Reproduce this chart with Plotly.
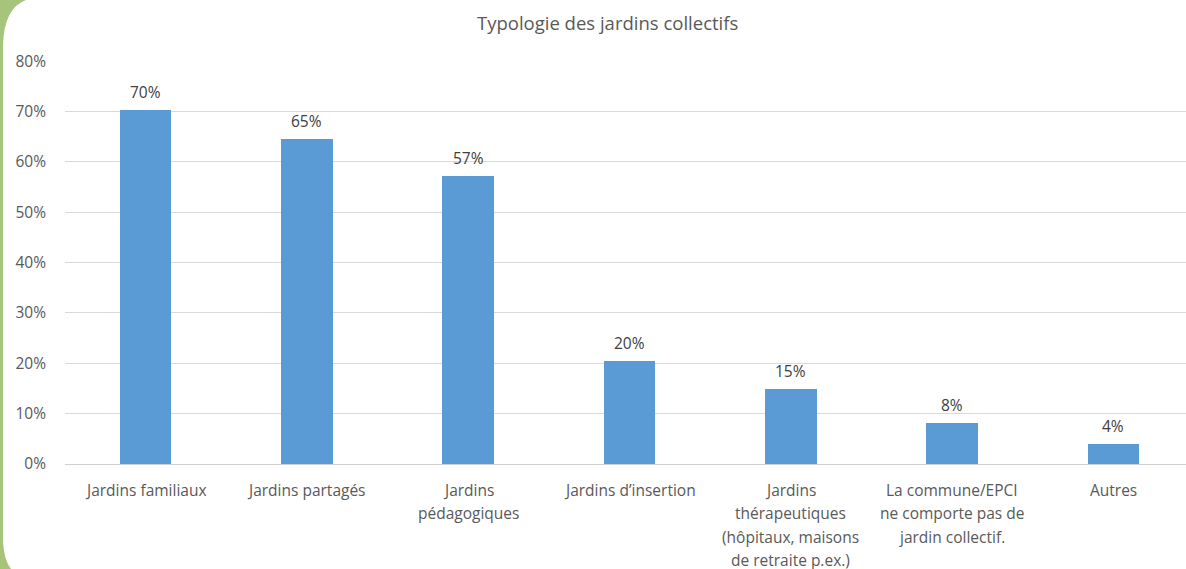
import plotly.graph_objects as go

# ---- data ----
categories = [
    "Jardins familiaux",
    "Jardins partagés",
    "Jardins<br>pédagogiques",
    "Jardins d’insertion",
    "Jardins<br>thérapeutiques<br>(hôpitaux, maisons<br>de retraite p.ex.)",
    "La commune/EPCI<br>ne comporte pas de<br>jardin collectif.",
    "Autres",
]
values = [0.704, 0.646, 0.573, 0.204, 0.148, 0.082, 0.040]
y_ticks = [0, 0.1, 0.2, 0.3, 0.4, 0.5, 0.6, 0.7, 0.8]
title_text = "Typologie des jardins collectifs"

# ---- layout geometry ----
W, H = 1186, 569
L, R, T, B = 65, 0, 61, 105
PW, PH = W - L - R, H - T - B

def px(x):
    return (x - L) / PW

def py(y):
    return (H - B - y) / PH

FONT = "Open Sans, sans-serif"
TXT = "#595959"
FS = 15.5

fig = go.Figure()
fig.add_trace(go.Bar(
    x=list(range(len(categories))),
    y=values,
    marker=dict(color="#5b9bd5", line=dict(width=0)),
    width=0.32,
    hoverinfo="skip",
))

annotations = []
# value labels
for i, v in enumerate(values):
    annotations.append(dict(
        x=i, y=v, xref="x", yref="y", text=f"{round(v*100)}%",
        showarrow=False, yanchor="bottom", yshift=5,
        font=dict(family=FONT, size=FS, color="#404040"),
    ))
# category labels, one annotation per line for Excel-like line spacing
for i, c in enumerate(categories):
    for j, line in enumerate(c.split("<br>")):
        annotations.append(dict(
            x=i, y=0, xref="x", yref="y", text=line,
            showarrow=False, yanchor="middle", yshift=-26 - 23.3 * j,
            font=dict(family=FONT, size=FS, color=TXT),
        ))
# title
annotations.append(dict(
    x=px(607), y=py(22), xref="paper", yref="paper", text=title_text,
    showarrow=False, xanchor="center", yanchor="middle",
    font=dict(family=FONT, size=18.5, color=TXT),
))

# decorative green border on the left
path = (f"M {px(0)},{py(0)} L {px(26)},{py(0)} Q {px(4)},{py(8)} {px(3)},{py(45)} "
        f"L {px(3)},{py(542)} Q {px(4)},{py(560)} {px(11)},{py(569)} L {px(0)},{py(569)} Z")
shapes = [dict(type="path", xref="paper", yref="paper", path=path,
               fillcolor="#a6c47a", line=dict(width=0), layer="above")]

fig.update_layout(
    width=W, height=H,
    margin=dict(l=L, r=R, t=T, b=B, pad=0),
    paper_bgcolor="white", plot_bgcolor="white",
    showlegend=False,
    font=dict(family=FONT, size=FS, color=TXT),
    annotations=annotations,
    shapes=shapes,
    bargap=0,
)
fig.update_xaxes(
    range=[-0.5, 6.45], showticklabels=False, showgrid=False,
    zeroline=False, showline=False, ticks="", fixedrange=True,
)
fig.update_yaxes(
    range=[0, 0.8005], tickvals=y_ticks, tickformat=".0%",
    showgrid=True, gridcolor="#d9d9d9", gridwidth=1,
    zeroline=True, zerolinecolor="#d0d0d0", zerolinewidth=1,
    showline=False, ticks="", ticklabelstandoff=18,
    tickfont=dict(family=FONT, size=FS, color=TXT), fixedrange=True,
)

fig.write_html(
    "out.html",
    config={"displayModeBar": False},
    post_script="document.body.style.margin='0';document.body.style.padding='0';document.body.style.overflow='hidden';",
)
